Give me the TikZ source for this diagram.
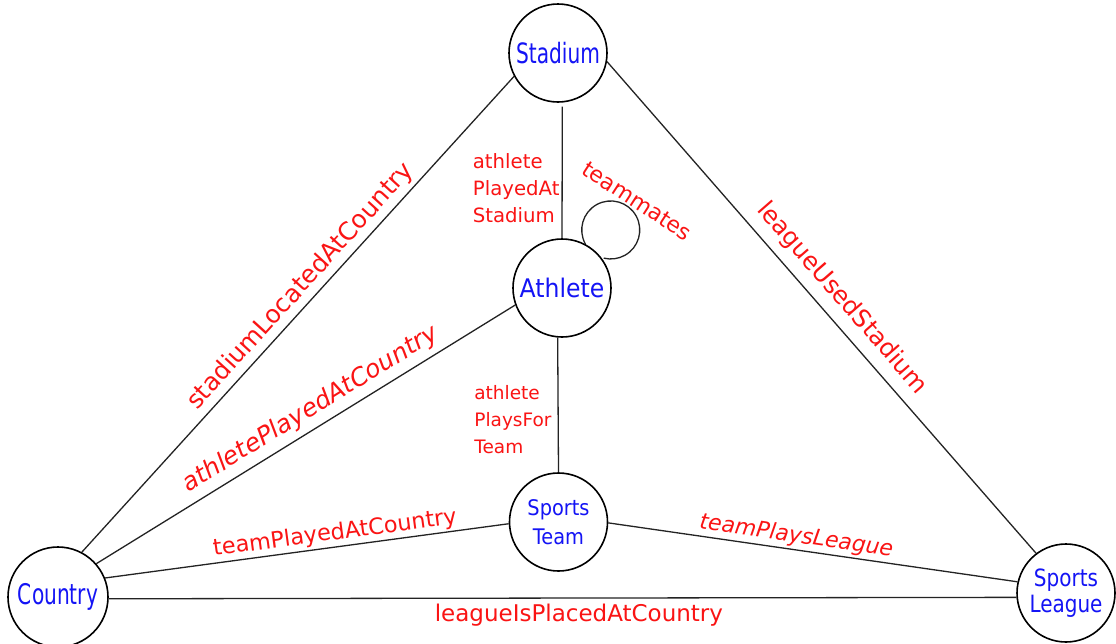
\documentclass[tikz,border=0pt]{standalone}
\usepackage{fontspec}
\usepackage{graphicx}
\setmainfont{DejaVu Sans}[ItalicFont={DejaVu Sans Oblique}]
\definecolor{entblue}{RGB}{20,20,245}
\definecolor{relred}{RGB}{250,20,20}
\definecolor{linegray}{RGB}{35,35,35}
\tikzset{
  ent/.style={circle, draw=black, line width=1.6pt, minimum size=98pt, inner sep=0pt,
    text=entblue, align=center},
  link/.style={draw=linegray, line width=1.3pt},
  rel/.style={text=relred, inner sep=0pt},
}
\begin{document}
\begin{tikzpicture}[x=1pt, y=-1pt]
\fill[white] (0,0) rectangle (1116,643);
\useasboundingbox (0,0) rectangle (1116,643);

% entities
\node[ent, font=\fontsize{28}{30}\selectfont] (S) at (558,53) {\scalebox{0.72}[1]{Stadium}};
\node[ent, font=\fontsize{25.6}{28}\selectfont] (A) at (562,288) {\scalebox{0.92}[1]{Athlete}};
\node[ent, font=\fontsize{21.5}{29}\selectfont] (T) at (558.5,522) {\scalebox{0.9}[1]{Sports}\\\scalebox{0.9}[1]{Team}};
\node[ent, minimum size=100pt, font=\fontsize{28.4}{30}\selectfont] (C) at (58,597) {\scalebox{0.71}[1]{Country}};
\node[ent, font=\fontsize{23.8}{26}\selectfont] (L) at (1066,593) {\scalebox{0.84}[1]{Sports}\\\scalebox{0.84}[1]{League}};

% relations
\draw[link] (C.62) -- node[rel, sloped, above=4pt, pos=.535, font=\fontsize{24.8}{26}\selectfont] (rSC) {stadiumLocatedAtCountry} (S.208);
\draw[link] (C.41) -- node[rel, sloped, above=6pt, pos=.535, font=\fontsize{24.8}{26}\selectfont\itshape] (rAC) {athletePlayedAtCountry} (A.200);
\draw[link] (C.22) -- node[rel, sloped, above=2pt, pos=.574, font=\fontsize{22.4}{24}\selectfont] (rTC) {teamPlayedAtCountry} (T.182);
\draw[link] (T.359) -- node[rel, sloped, above=2pt, pos=.455, font=\fontsize{22}{24}\selectfont\itshape] (rTL) {teamPlaysLeague} (L.167);
\draw[link] (C.358) -- node[rel, below=5pt, pos=.518, font=\fontsize{23}{25}\selectfont] (rLC) {leagueIsPlacedAtCountry} (L.185);
\draw[link] (S.-10) -- node[rel, sloped, above=9pt, pos=.51, font=\fontsize{24.4}{26}\selectfont] (rLS) {leagueUsedStadium} (L.127);
\draw[link, shorten <=4pt] (S.-85) -- node[rel, left=2pt, align=left, pos=.63, font=\fontsize{19.7}{27}\selectfont] (rAS) {athlete\\PlayedAt\\Stadium} (A.north);
\draw[link] (A.265) -- node[rel, left=6pt, align=left, pos=.61, font=\fontsize{18.5}{27}\selectfont] (rAT) {athlete\\PlaysFor\\Team} (T.north);

% self relation on the athlete
\draw[link] (A.62) arc[start angle=151, end angle=464, radius=29];
\node[rel, rotate=-33, font=\fontsize{22}{24}\selectfont] (rAA) at (637,201) {teammates};
\end{tikzpicture}
\end{document}
